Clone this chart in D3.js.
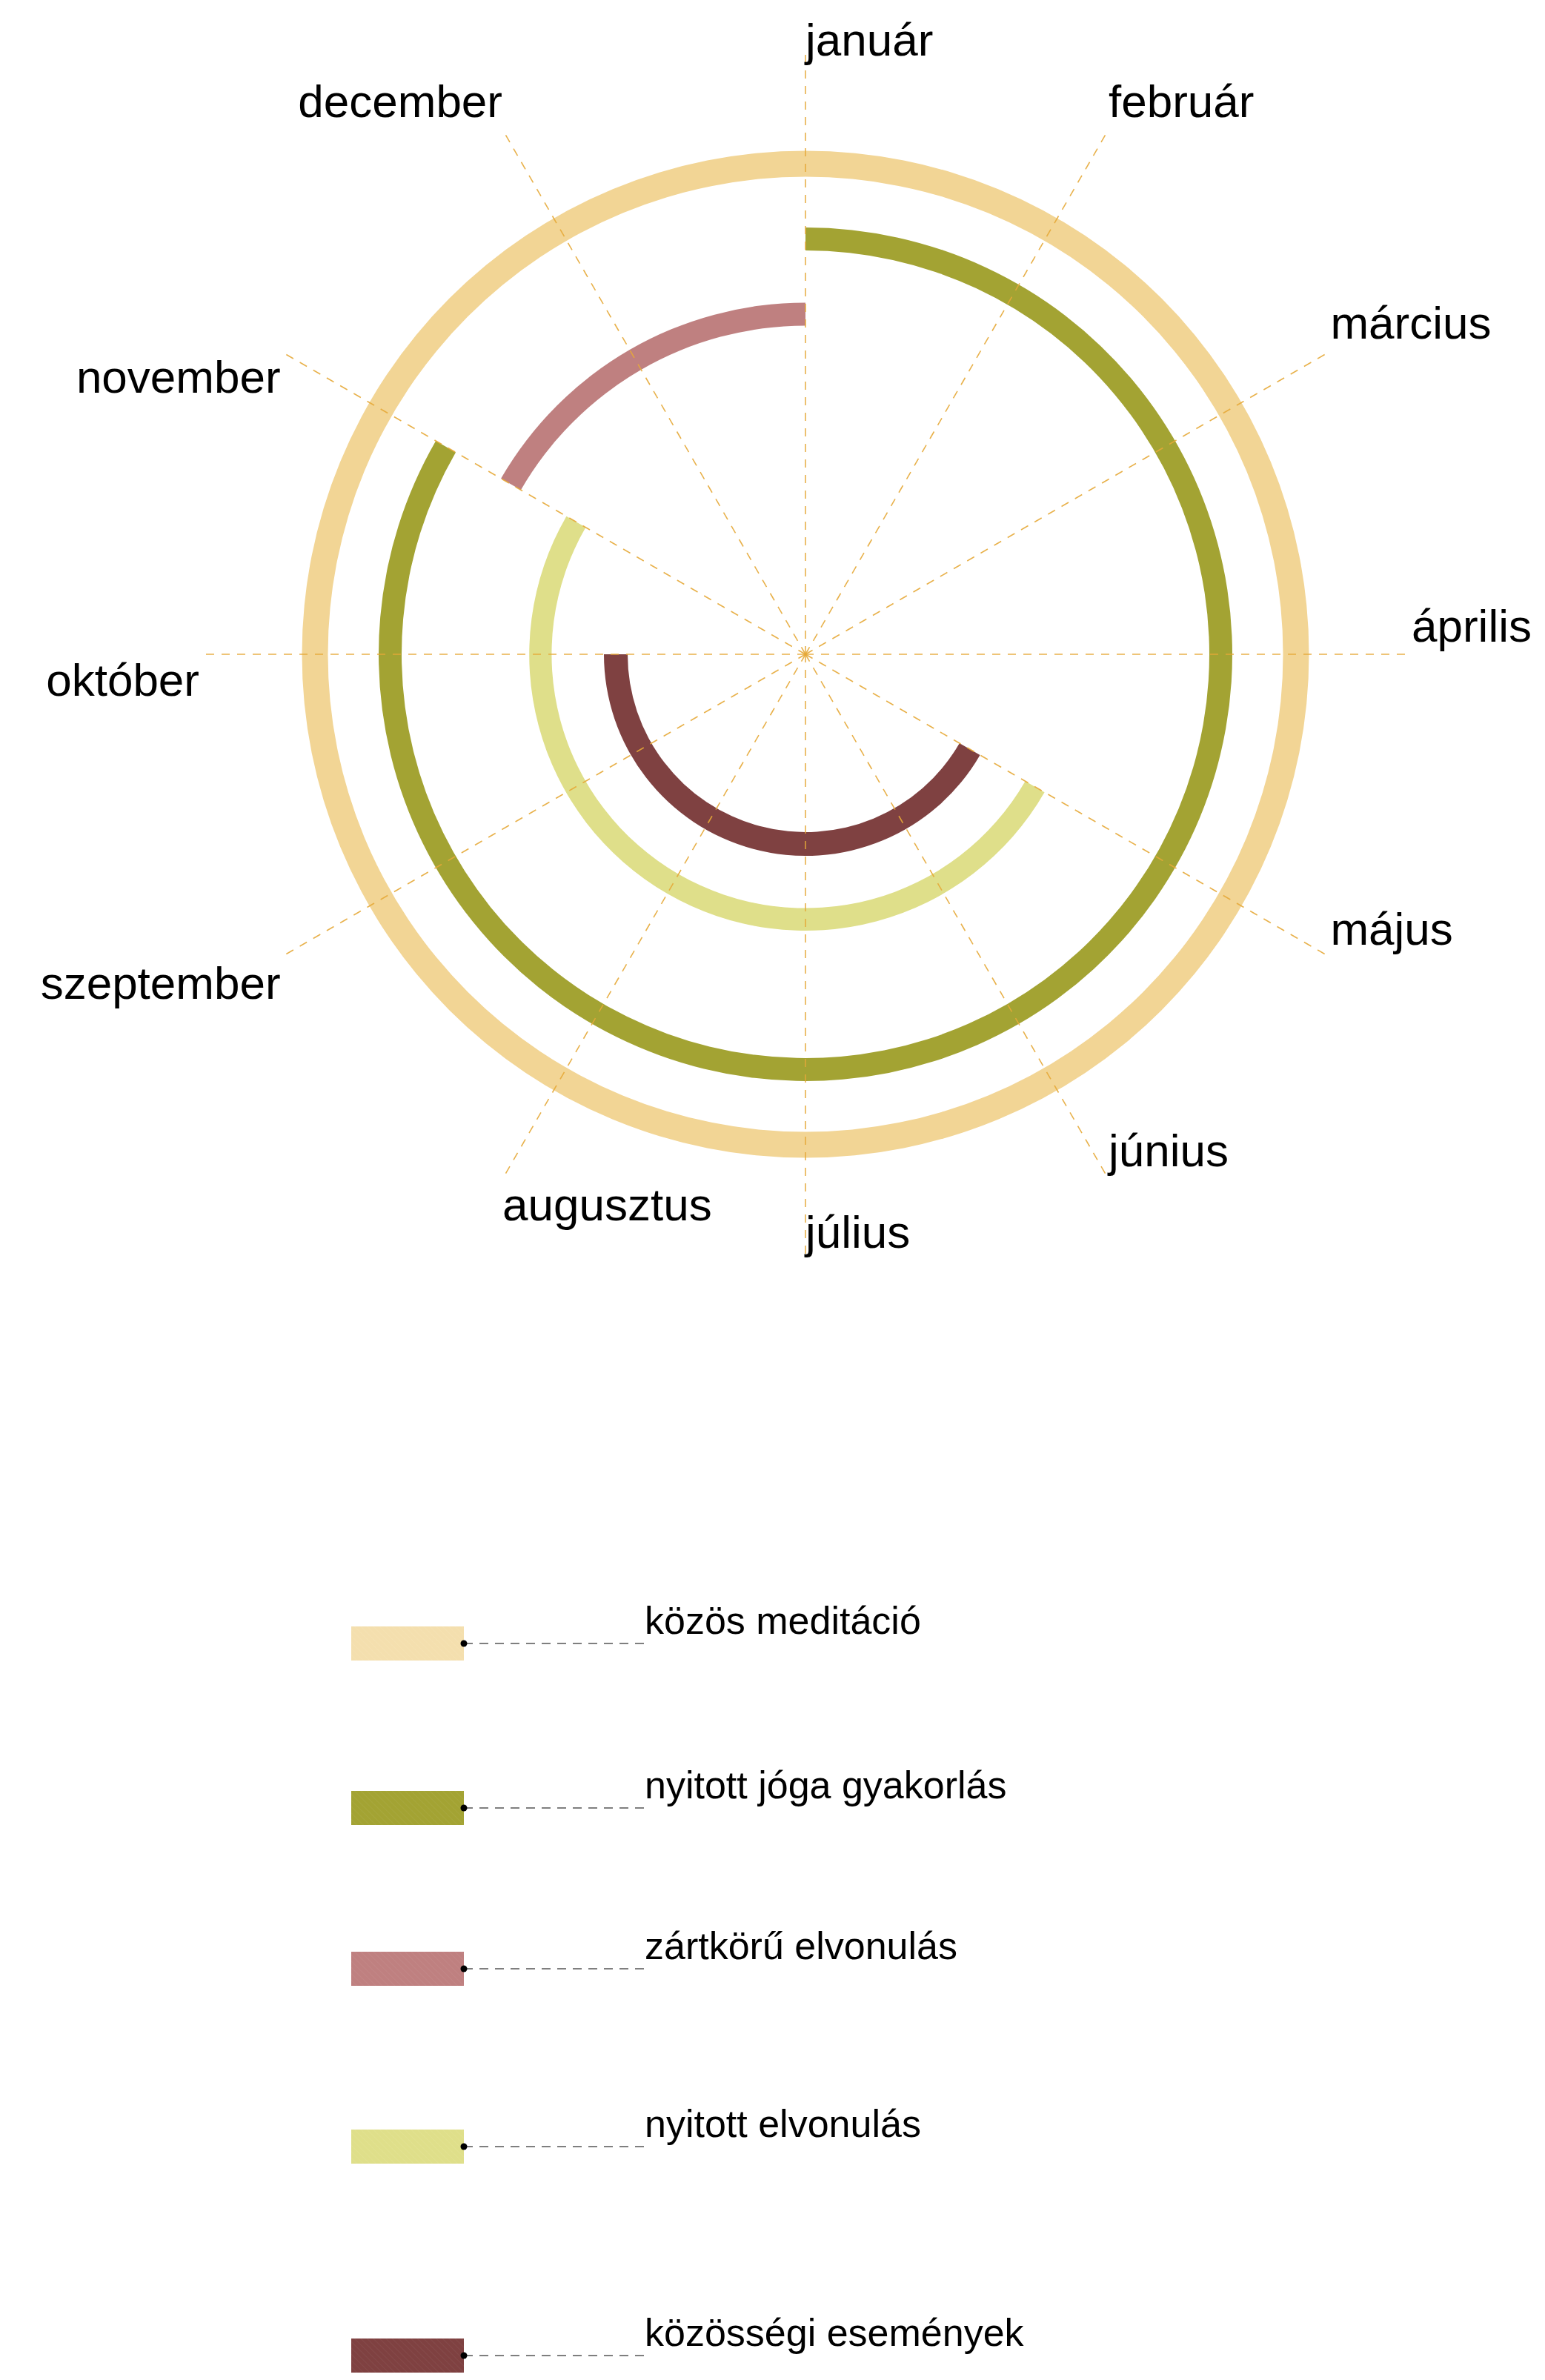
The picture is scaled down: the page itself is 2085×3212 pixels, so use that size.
<!DOCTYPE html>
<html>
<head>
<meta charset="utf-8">
<script src="https://cdn.jsdelivr.net/npm/d3@7"></script>
<style>
  html, body { margin: 0; padding: 0; background: #ffffff; }
  svg { display: block; }
  text { font-family: "Liberation Sans", Arial, sans-serif; }
</style>
</head>
<body>
<script>
// ---- data ----
const months = ["január", "február", "március", "április", "május", "június",
                "július", "augusztus", "szeptember", "október", "november", "december"];
const activities = ["közös meditáció", "nyitott jóga gyakorlás", "zártkörű elvonulás",
                    "nyitott elvonulás", "közösségi események"];
// month index where each activity starts / ends (12 = end of year)
const startMonth = [0, 0, 10, 4, 4];
const endMonth   = [12, 10, 12, 10, 9];
const colors = ["#f2d595", "#a3a333", "#bf8080", "#dfdf8a", "#7f4141"];
const legendColors = ["#f4dfae", "#a3a333", "#bf8080", "#dfdf8a", "#7f4141"];

// ---- layout ----
const W = 2085, H = 3212;
const cx = 1087, cy = 883;
const gridR = 818;

const svg = d3.select("body").append("svg").attr("width", W).attr("height", H);

const angle = d3.scaleLinear().domain([0, 12]).range([0, 2 * Math.PI]);
const radius = d3.scalePoint().domain(activities).range([662, 256]);
const ringWidth = d3.scaleOrdinal().domain(activities).range([35, 31, 31, 30, 32]);

const g = svg.append("g").attr("transform", `translate(${cx},${cy})`);

// rings
const arc = d3.arc()
  .innerRadius(d => radius(d) - ringWidth(d) / 2)
  .outerRadius(d => radius(d) + ringWidth(d) / 2)
  .startAngle(d => angle(startMonth[activities.indexOf(d)]))
  .endAngle(d => angle(endMonth[activities.indexOf(d)]));

g.selectAll("path.ring").data(activities).enter().append("path")
  .attr("class", "ring")
  .attr("d", arc)
  .attr("fill", (d, i) => colors[i]);

// spokes
const px = (m, r) => r * Math.sin(angle(m));
const py = (m, r) => -r * Math.cos(angle(m));

g.selectAll("line.spoke").data(months).enter().append("line")
  .attr("class", "spoke")
  .attr("x1", 0).attr("y1", 0)
  .attr("x2", (d, i) => px(i, gridR))
  .attr("y2", (d, i) => py(i, gridR))
  .attr("stroke", "#e6a837")
  .attr("stroke-opacity", 0.9)
  .attr("stroke-width", 1.6)
  .attr("stroke-dasharray", "11,10");

// month labels
function labelAnchor(i) { const a = i * 30; return a <= 210 ? "start" : "end"; }
function labelDy(i) {
  const a = i * 30;
  if (a === 0) return 10;
  if (a >= 210 && a <= 300) return 56;
  return -17;
}
g.selectAll("text.month").data(months).enter().append("text")
  .attr("class", "month")
  .attr("x", (d, i) => px(i, gridR))
  .attr("y", (d, i) => py(i, gridR) + labelDy(i))
  .attr("text-anchor", (d, i) => labelAnchor(i))
  .attr("font-size", 62)
  .attr("fill", "#000")
  .text(d => d);

// legend
const defs = svg.append("defs");
legendColors.forEach((c, i) => {
  const p = defs.append("pattern").attr("id", "hatch" + i)
    .attr("patternUnits", "userSpaceOnUse").attr("width", 6).attr("height", 6)
    .attr("patternTransform", "rotate(-45)");
  p.append("rect").attr("width", 6).attr("height", 6).attr("fill", c);
  p.append("line").attr("x1", 0).attr("y1", 0).attr("x2", 0).attr("y2", 6)
    .attr("stroke", "#ffffff").attr("stroke-opacity", 0.06).attr("stroke-width", 1.5);
});

const legendY = [2218, 2440, 2657, 2897, 3179];
const rectX = 474, rectW = 152, rectH = 46, textX = 870;

const lg = svg.selectAll("g.legend").data(activities).enter().append("g")
  .attr("class", "legend")
  .attr("transform", (d, i) => `translate(0,${legendY[i]})`);

lg.append("rect")
  .attr("x", rectX).attr("y", -rectH / 2)
  .attr("width", rectW).attr("height", rectH)
  .attr("fill", (d, i) => `url(#hatch${i})`);

lg.append("line")
  .attr("x1", rectX + rectW).attr("x2", textX)
  .attr("y1", 0).attr("y2", 0)
  .attr("stroke", "#555").attr("stroke-width", 1.5)
  .attr("stroke-dasharray", "12,9");

lg.append("circle")
  .attr("cx", rectX + rectW).attr("cy", 0).attr("r", 4.5)
  .attr("fill", "#000");

lg.append("text")
  .attr("x", textX).attr("y", -13)
  .attr("font-size", 52)
  .attr("fill", "#000")
  .text(d => d);
</script>
</body>
</html>
